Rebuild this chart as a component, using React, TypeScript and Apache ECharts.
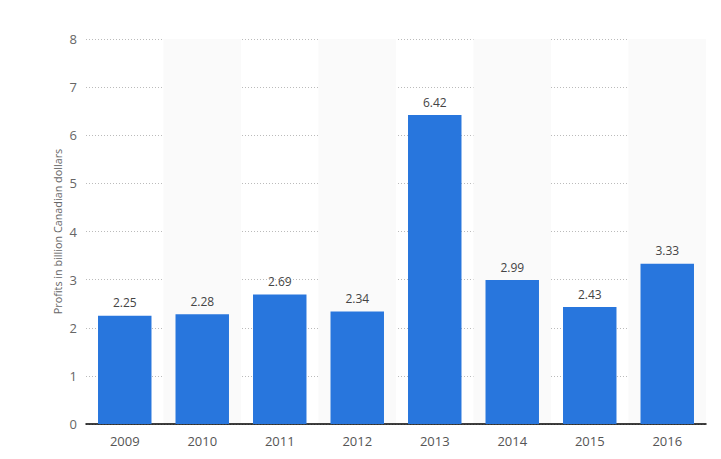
import React, { useEffect, useRef } from "react";
import * as echarts from "echarts";

const years = ["2009", "2010", "2011", "2012", "2013", "2014", "2015", "2016"];
const profits = [2.25, 2.28, 2.69, 2.34, 6.42, 2.99, 2.43, 3.33];
const yAxisName = "Profits in billion Canadian dollars";

export default function App() {
  const ref = useRef<HTMLDivElement>(null);
  useEffect(() => {
    const chart = echarts.init(ref.current!, null, { renderer: "svg" });
    chart.setOption({
      animation: false,
      textStyle: { fontFamily: "Open Sans" },
      grid: { left: 78, right: 7, top: 31, bottom: 27 },
      xAxis: {
        type: "category",
        data: years,
        axisLine: { lineStyle: { color: "#000", width: 1.5 } },
        axisTick: { show: false },
        axisLabel: { color: "#555", fontSize: 13, margin: 10 },
        splitArea: { show: true, areaStyle: { color: ["rgba(0,0,0,0)", "#fafafa"] } },
      },
      yAxis: {
        type: "value",
        min: 0,
        max: 8,
        interval: 1,
        name: yAxisName,
        nameLocation: "middle",
        nameGap: 23,
        nameMoveOverlap: false,
        nameTextStyle: { color: "#666", fontSize: 10.8 },
        axisLine: { show: false },
        axisTick: { show: false },
        axisLabel: { color: "#666", fontSize: 13, margin: 9 },
        splitLine: { lineStyle: { color: "#bbb", type: [1, 2], width: 1 } },
      },
      series: [
        {
          type: "bar",
          data: profits,
          barWidth: "69%",
          itemStyle: { color: "#2876dd" },
          label: {
            show: true,
            position: "top",
            color: "#444",
            fontSize: 12,
            distance: 7,
            formatter: (p: any) => p.value.toFixed(2),
          },
        },
      ],
    });
    return () => chart.dispose();
  }, []);
  return <div ref={ref} style={{ width: 705, height: 443 }} />;
}
